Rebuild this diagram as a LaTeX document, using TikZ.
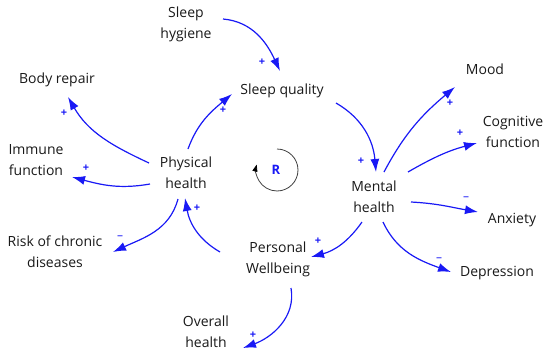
\documentclass[tikz,border=0pt]{standalone}
\usepackage{fontspec}
\setmainfont{Open Sans}
\usetikzlibrary{arrows.meta,calc}
\definecolor{cblue}{RGB}{25,25,245}
\definecolor{ctext}{RGB}{25,25,25}
\begin{document}
\begin{tikzpicture}[x=1pt,y=1pt,
  lbl/.style={font=\fontsize{14}{21}\selectfont, text=ctext, align=center, inner sep=0},
  link/.style={cblue, line width=1.2pt, -{Latex[length=13pt,width=9pt]}},
  plus/.style={font=\fontsize{11}{11}\selectfont\bfseries, text=cblue, inner sep=0},
  minus/.style={font=\fontsize{12}{12}\selectfont, text=cblue, inner sep=0},
  ]
\useasboundingbox (0,0) rectangle (550,-359);
% nodes
\node[lbl] (sh) at (186,-24) {Sleep\\hygiene};
\node[lbl] (sq) at (282,-91) {Sleep quality};
\node[lbl] (br) at (57,-80) {Body repair};
\node[lbl] (im) at (36,-160) {Immune\\function};
\node[lbl] (ph) at (186,-173) {Physical\\health};
\node[lbl] (mh) at (374,-197) {Mental\\health};
\node[lbl] (mo) at (485,-69) {Mood};
\node[lbl] (cg) at (513,-132) {Cognitive\\function};
\node[lbl] (an) at (512,-220) {Anxiety};
\node[lbl] (de) at (497,-273) {Depression};
\node[lbl] (rk) at (55,-252) {Risk of chronic\\diseases};
\node[lbl] (pw) at (278,-259) {Personal\\Wellbeing};
\node[lbl] (oh) at (206,-332) {Overall\\health};
\node[font=\fontsize{13}{13}\selectfont\bfseries, text=cblue, inner sep=0] (R) at (276,-170) {R};
% loop symbol
\draw[black!75, line width=0.8pt, -{Triangle[length=7pt,width=5pt,black]}]
  ($(R)+(1,21)$) arc[start angle=90, end angle=-195, radius=21];
% links
\draw[link] ($(sh)+(37,5)$) to[out=-5,in=115] ($(sq)+(-2,20)$);
\draw[link] ($(sq)+(54,-12)$) to[out=-30,in=95] ($(mh)+(2,25)$);
\draw[link] ($(mh)+(10,25)$) to[out=62,in=220] ($(mo)+(-30,-18)$);
\draw[link] ($(mh)+(34,25)$) to[out=30,in=195] ($(cg)+(-36,-11)$);
\draw[link] ($(mh)+(37,-5)$) to[out=-3,in=170] ($(an)+(-34,8)$);
\draw[link] ($(mh)+(9,-25)$) to[out=-65,in=160] ($(de)+(-46,1)$);
\draw[link] ($(mh)+(-12,-25)$) to[out=235,in=15] ($(pw)+(33,2)$);
\draw[link] ($(pw)+(13,-29)$) to[out=-80,in=20] ($(oh)+(37,-16)$);
\draw[link] ($(pw)+(-58,7)$) to[out=150,in=-80] ($(ph)+(-1,-25)$);
\draw[link] ($(ph)+(-8,-26)$) to[out=255,in=25] ($(rk)+(58,0)$);
\draw[link] ($(ph)+(-36,-11)$) to[out=190,in=-15] ($(im)+(36,-17)$);
\draw[link] ($(ph)+(-37,10)$) to[out=155,in=-60] ($(br)+(11,-17)$);
\draw[link] ($(ph)+(2,24)$) to[out=70,in=220] ($(sq)+(-50,-3)$);
% polarity signs
\node[plus] (s1) at (262,-62) {+};
\node[plus] (s2) at (361,-161) {+};
\node[plus] (s3) at (450,-103) {+};
\node[plus] (s4) at (460,-133) {+};
\node[minus] (s5) at (466,-199) {–};
\node[minus] (s6) at (439,-260) {–};
\node[plus] (s7) at (318,-241) {+};
\node[plus] (s8) at (253,-335) {+};
\node[plus] (s9) at (197,-208) {+};
\node[minus] (s10) at (120,-238) {–};
\node[plus] (s11) at (86,-168) {+};
\node[plus] (s12) at (64,-113) {+};
\node[plus] (s13) at (223,-110) {+};
\end{tikzpicture}
\end{document}
